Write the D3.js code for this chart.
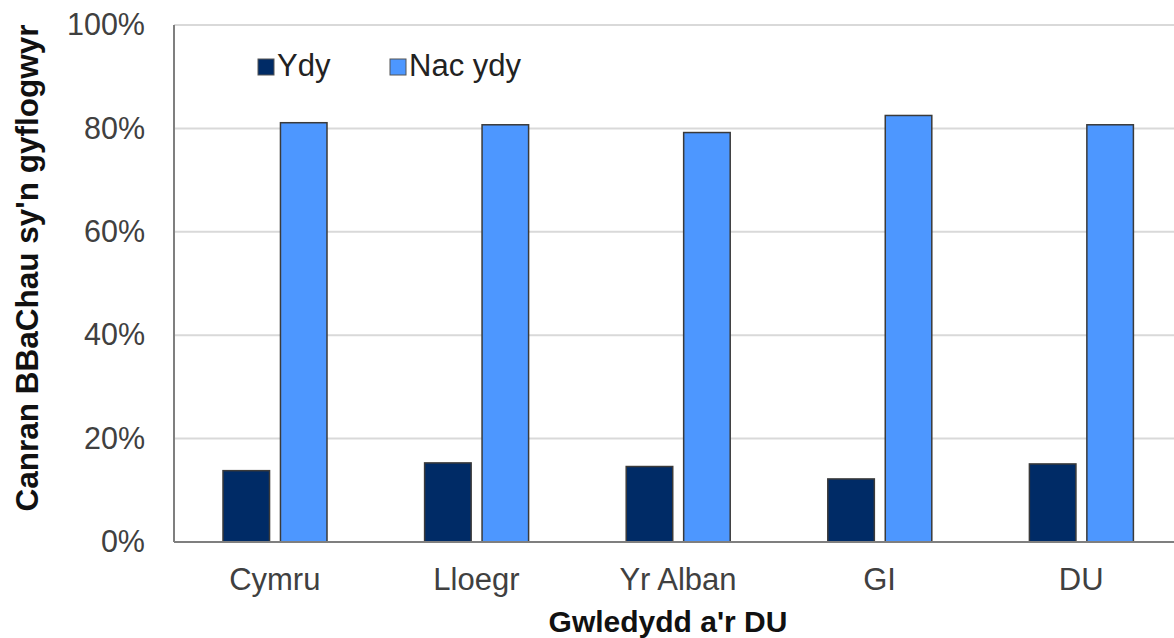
<!DOCTYPE html>
<html>
<head>
<meta charset="utf-8">
<script src="https://cdn.jsdelivr.net/npm/d3@7"></script>
<style>
  body { margin: 0; background: #fff; }
  svg { display: block; font-family: "Liberation Sans", Arial, sans-serif; }
</style>
</head>
<body>
<svg id="svg" width="1174" height="638"></svg>
<script>
const svg = d3.select("#svg");

const categories = ["Cymru", "Lloegr", "Yr Alban", "GI", "DU"];
const seriesNames = ["Ydy", "Nac ydy"];
const ydyValues = [13.8, 15.3, 14.6, 12.2, 15.1];
const nacYdyValues = [81.1, 80.7, 79.2, 82.5, 80.7];
const yTicks = [0, 20, 40, 60, 80, 100];

const colors = ["#002b66", "#4d97ff"];

// plot area runs past the right edge of the window, as in the original
const plotLeft = 174, plotRight = 1182, plotTop = 25, plotBottom = 542;

const x0 = d3.scaleBand().domain(categories).range([plotLeft, plotRight]);
const x1 = d3.scaleBand().domain(seriesNames).range([49, 153]).paddingInner(0.19);
const y = d3.scaleLinear().domain([0, 100]).range([plotBottom, plotTop]);
const color = d3.scaleOrdinal(seriesNames, colors);

const rows = categories.map((c, i) => ({
  category: c,
  values: [
    { name: "Ydy", value: ydyValues[i] },
    { name: "Nac ydy", value: nacYdyValues[i] },
  ],
}));

// gridlines
svg.append("g")
  .selectAll("line")
  .data(yTicks.filter((d) => d > 0))
  .join("line")
  .attr("x1", plotLeft)
  .attr("x2", plotRight)
  .attr("y1", (d) => y(d))
  .attr("y2", (d) => y(d))
  .style("stroke", "#d9d9d9")
  .style("stroke-width", 2);

// y tick labels
const yAxis = svg.append("g")
  .attr("transform", `translate(${plotLeft},0)`)
  .call(d3.axisLeft(y).tickValues(yTicks).tickFormat((d) => d + "%").tickSize(0).tickPadding(29));
yAxis.select(".domain").remove();
yAxis.selectAll("text")
  .style("font-size", "30.5px")
  .style("font-family", "Liberation Sans, Arial, sans-serif")
  .style("fill", "#404040");

// bars
svg.append("g")
  .selectAll("g")
  .data(rows)
  .join("g")
  .attr("transform", (d) => `translate(${x0(d.category)},0)`)
  .selectAll("rect")
  .data((d) => d.values)
  .join("rect")
  .attr("x", (d) => x1(d.name))
  .attr("width", x1.bandwidth())
  .attr("y", (d) => y(d.value))
  .attr("height", (d) => y(0) - y(d.value))
  .style("fill", (d) => color(d.name))
  .style("stroke", "#3a3a3a")
  .style("stroke-width", 1.5);

// axis lines
svg.append("line")
  .attr("x1", plotLeft).attr("x2", plotLeft)
  .attr("y1", plotTop).attr("y2", plotBottom)
  .style("stroke", "#7f7f7f").style("stroke-width", 2);
svg.append("line")
  .attr("x1", plotLeft).attr("x2", plotRight)
  .attr("y1", plotBottom).attr("y2", plotBottom)
  .style("stroke", "#7f7f7f").style("stroke-width", 2);

// x tick labels
const xAxis = svg.append("g")
  .attr("transform", `translate(0,${plotBottom})`)
  .call(d3.axisBottom(x0).tickSize(0).tickPadding(26));
xAxis.select(".domain").remove();
xAxis.selectAll("text")
  .style("font-size", "31px")
  .style("font-family", "Liberation Sans, Arial, sans-serif")
  .style("fill", "#404040");

// axis titles
svg.append("text")
  .attr("x", 668)
  .attr("y", 632)
  .attr("text-anchor", "middle")
  .style("font-size", "30px")
  .style("font-weight", "bold")
  .style("fill", "#111")
  .text("Gwledydd a'r DU");

svg.append("text")
  .attr("transform", "translate(38,268) rotate(-90)")
  .attr("text-anchor", "middle")
  .style("font-size", "31.5px")
  .style("font-weight", "bold")
  .style("fill", "#111")
  .text("Canran BBaChau sy'n gyflogwyr");

// legend
const legendX = [258, 390];
const legend = svg.append("g")
  .selectAll("g")
  .data(seriesNames)
  .join("g")
  .attr("transform", (d, i) => `translate(${legendX[i]},59)`);
legend.append("rect")
  .attr("width", 16)
  .attr("height", 16)
  .style("fill", (d) => color(d))
  .style("stroke", "#555")
  .style("stroke-width", 1);
legend.append("text")
  .attr("x", 19)
  .attr("y", 17)
  .style("font-size", "31px")
  .style("fill", "#222")
  .text((d) => d);
</script>
</body>
</html>
